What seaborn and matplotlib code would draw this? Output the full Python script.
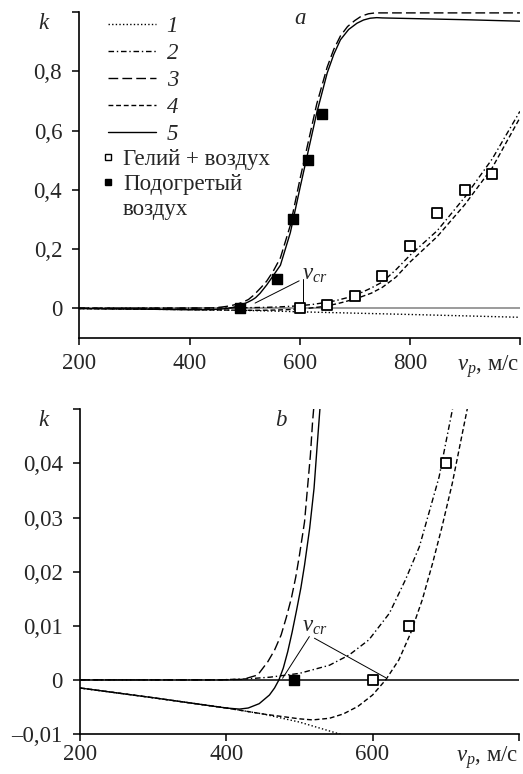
import numpy as np
import pandas as pd
import matplotlib
matplotlib.use("Agg")
import matplotlib.pyplot as plt
import seaborn as sns
from matplotlib.lines import Line2D

# ---------------- data ----------------
x1 = [200, 300, 400, 450, 500, 555, 600, 700, 800, 900, 1000]
k1 = [-0.0015, -0.0033, -0.0052, -0.0063, -0.0078, -0.0100, -0.0125, -0.0170, -0.0215, -0.0262, -0.0310]

x2 = [200, 390, 430, 460, 500, 541, 568, 595, 623, 645, 664, 677, 691, 700, 709,
      730, 750, 775, 800, 850, 900, 950, 1000]
k2 = [0, 0, 0.0002, 0.0005, 0.0012, 0.0027, 0.0046, 0.0074, 0.0123, 0.0185, 0.0246, 0.0308,
      0.0375, 0.0437, 0.0498, 0.068, 0.088, 0.13, 0.178, 0.262, 0.375, 0.505, 0.665]

x3 = [200, 391, 423, 443, 457, 466, 475, 482, 489, 495, 500, 507, 511, 515, 518, 521,
      530, 540, 552, 565, 583, 601, 613, 631, 650, 662, 674, 687, 700, 712, 725, 737,
      750, 800, 900, 1000]
k3 = [0, 0, 0.0001, 0.0009, 0.0034, 0.0055, 0.0083, 0.0115, 0.0151, 0.019, 0.023, 0.0292,
      0.0354, 0.0415, 0.0477, 0.0525, 0.07, 0.091, 0.125, 0.17, 0.28, 0.44, 0.54, 0.69,
      0.815, 0.875, 0.92, 0.952, 0.972, 0.987, 0.995, 0.998, 0.998, 0.998, 0.998, 0.998]

x4 = [200, 300, 400, 450, 500, 518, 541, 560, 580, 600, 618, 636, 652, 668, 682, 695,
      709, 720, 730, 750, 775, 800, 850, 900, 950, 1000]
k4 = [-0.0015, -0.0033, -0.0052, -0.0063, -0.0072, -0.0074, -0.0071, -0.0063, -0.0049,
      -0.0028, 0.0, 0.0037, 0.0086, 0.0148, 0.0215, 0.0283, 0.0363, 0.0437, 0.0504,
      0.07, 0.105, 0.155, 0.242, 0.35, 0.475, 0.643]

x5 = [200, 300, 400, 418, 430, 445, 459, 466, 472, 478, 484, 490, 496, 502, 507, 514,
      520, 524, 528, 540, 552, 565, 583, 601, 613, 631, 650, 662, 674, 689, 704, 716,
      728, 740, 750, 800, 900, 1000]
k5 = [-0.0015, -0.0033, -0.0052, -0.0054, -0.0052, -0.0044, -0.0028, -0.0015, 0.0, 0.0022,
      0.0052, 0.0088, 0.0128, 0.017, 0.0212, 0.028, 0.0354, 0.0428, 0.05, 0.078, 0.11,
      0.145, 0.255, 0.41, 0.51, 0.66, 0.795, 0.858, 0.907, 0.942, 0.963, 0.974,
      0.98, 0.982, 0.981, 0.979, 0.975, 0.97]

helium_x = [600, 650, 700, 750, 800, 850, 900, 950]
helium_k = [0.0, 0.01, 0.04, 0.11, 0.21, 0.32, 0.40, 0.455]

heated_x = [492, 558, 588, 616, 641]
heated_k = [0.0, 0.10, 0.30, 0.50, 0.655]

curve_labels = ["1", "2", "3", "4", "5"]
helium_label = "Гелий + воздух"
heated_label = ["Подогретый", "воздух"]

xticks_a = [200, 400, 600, 800, 1000]
yticks_a = [0, 0.2, 0.4, 0.6, 0.8, 1.0]
ytlabels_a = ["0", "0,2", "0,4", "0,6", "0,8", ""]
xticks_b = [200, 400, 600, 800]
yticks_b = [-0.01, 0, 0.01, 0.02, 0.03, 0.04, 0.05]
ytlabels_b = ["\u20130,01", "0", "0,01", "0,02", "0,03", "0,04", ""]
xlabel_txt = "$v_p$, м/с"

# ---------------- style ----------------
sns.set_theme(style="ticks")
plt.rcParams["font.family"] = ["Liberation Serif", "DejaVu Serif"]
plt.rcParams["mathtext.fontset"] = "custom"
plt.rcParams["mathtext.rm"] = "Liberation Serif"
plt.rcParams["mathtext.it"] = "Liberation Serif:italic"
FS = 16.5

LS = [(0, (1, 1.6)), (0, (4, 2, 1, 2)), (0, (7, 3)), (0, (3.5, 2)), "-"]
curves = [(x1, k1), (x2, k2), (x3, k3), (x4, k4), (x5, k5)]

fig = plt.figure(figsize=(5.23, 7.74), dpi=100)
ax_a = fig.add_axes([0.152, 0.5637, 0.842, 0.4204])
ax_b = fig.add_axes([0.153, 0.0517, 0.839, 0.4195])


def draw(ax, zero_color, xpad):
    ax.axhline(0, color=zero_color, lw=1.1, zorder=1)
    for (xx, kk), ls in zip(curves, LS):
        sns.lineplot(x=xx, y=kk, ax=ax, color="black", lw=1.0, linestyle=ls,
                     estimator=None, sort=False, zorder=3)
    sns.scatterplot(x=helium_x, y=helium_k, ax=ax, marker="s", s=48, color="white",
                    edgecolor="black", linewidth=1.3, zorder=5)
    sns.scatterplot(x=heated_x, y=heated_k, ax=ax, marker="s", s=48, color="black",
                    edgecolor="black", linewidth=1.0, zorder=5)
    for sp in ["top", "right"]:
        ax.spines[sp].set_visible(False)
    for sp in ["left", "bottom"]:
        ax.spines[sp].set_linewidth(1.2)
        ax.spines[sp].set_color("black")
    ax.tick_params(direction="out", length=5, width=1.1, color="black",
                   labelsize=FS)
    ax.tick_params(axis="x", pad=xpad)
    ax.tick_params(axis="y", pad=7.5)
    ax.set_xlabel("")
    ax.set_ylabel("")


# ---- panel a ----
draw(ax_a, "#808080", 6)
ax_a.set_xlim(200, 1000)
ax_a.set_ylim(-0.1, 1.0)
ax_a.set_xticks(xticks_a)
ax_a.set_xticklabels([str(v) for v in xticks_a[:-1]] + [xlabel_txt])
ax_a.get_xticklabels()[-1].set_horizontalalignment("right")
ax_a.set_yticks(yticks_a)
ax_a.set_yticklabels(ytlabels_a)
ax_a.text(-0.083, 0.965, "k", transform=ax_a.transAxes, style="italic",
          fontsize=FS, ha="center", va="center")
ax_a.text(0.5, 0.98, "a", transform=ax_a.transAxes, style="italic",
          fontsize=FS, ha="center", va="center")
ax_a.annotate("$v_{cr}$", xy=(519, 0.017), xytext=(605, 0.112), fontsize=FS,
              ha="left", va="center",
              arrowprops=dict(arrowstyle="-", lw=0.7, color="black",
                              shrinkA=0, shrinkB=0, relpos=(0, 0.3)))
ax_a.plot([606, 606], [0.098, 0.017], color="black", lw=0.7)

h_lines = [Line2D([], [], color="black", lw=1.0, linestyle=ls) for ls in LS]
leg1 = ax_a.legend(h_lines, curve_labels, loc="upper left",
                   bbox_to_anchor=(0.065, 0.989), frameon=False,
                   prop={"style": "italic", "size": FS}, handlelength=2.1,
                   handletextpad=0.45, labelspacing=0.26, borderpad=0,
                   borderaxespad=0)
ax_a.add_artist(leg1)
h_marks = [Line2D([], [], linestyle="none", marker="s", markersize=5,
                  markerfacecolor="white", markeredgecolor="black", markeredgewidth=1.0),
           Line2D([], [], linestyle="none", marker="s", markersize=5,
                  markerfacecolor="black", markeredgecolor="black"),
           Line2D([], [], linestyle="none")]
ax_a.legend(h_marks, [helium_label] + heated_label, loc="upper left",
            bbox_to_anchor=(0.049, 0.58), frameon=False, prop={"size": FS},
            handlelength=0.6, handletextpad=0.35, labelspacing=0.17,
            borderpad=0, borderaxespad=0)

# ---- panel b ----
draw(ax_b, "black", 2)
ax_b.set_xlim(200, 800)
ax_b.set_ylim(-0.01, 0.05)
ax_b.set_xticks(xticks_b)
ax_b.set_xticklabels([str(v) for v in xticks_b[:-1]] + [xlabel_txt])
ax_b.get_xticklabels()[-1].set_horizontalalignment("right")
ax_b.set_yticks(yticks_b)
ax_b.set_yticklabels(ytlabels_b)
ax_b.text(-0.083, 0.965, "k", transform=ax_b.transAxes, style="italic",
          fontsize=FS, ha="center", va="center")
ax_b.text(0.458, 0.965, "b", transform=ax_b.transAxes, style="italic",
          fontsize=FS, ha="center", va="center")
ax_b.text(504, 0.0099, "$v_{cr}$", fontsize=FS, ha="left", va="center")
ax_b.plot([513.6, 477], [0.008, 0.0003], color="black", lw=0.7)
ax_b.plot([520.5, 618], [0.0077, 0.0004], color="black", lw=0.7)

fig.savefig("out.png", dpi=100)
